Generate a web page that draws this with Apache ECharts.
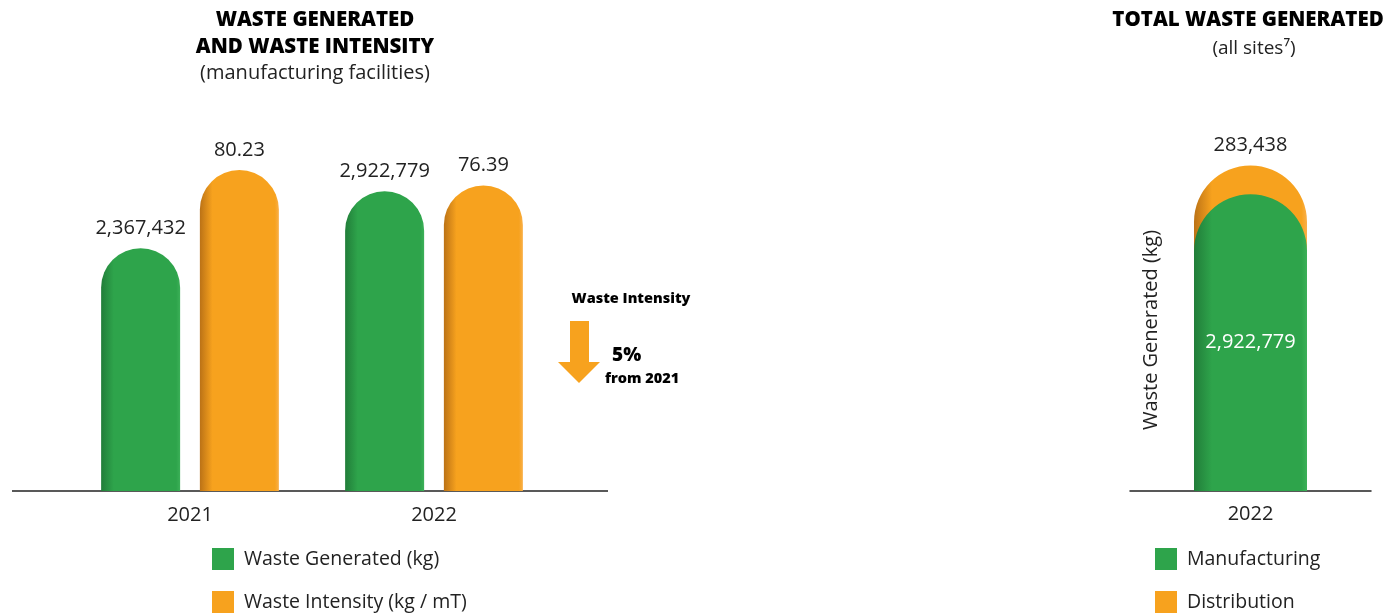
<!DOCTYPE html>
<html>
<head>
<meta charset="utf-8">
<script src="https://cdn.jsdelivr.net/npm/echarts@6/dist/echarts.min.js"></script>
<style>html,body{margin:0;padding:0;background:#fff;}#chart{width:1392px;height:614px;}</style>
</head>
<body>
<div id="chart"></div>
<script>
// ---- data ----
const categories = ['2021', '2022'];
const wasteGenerated = [2367432, 2922779];
const wasteIntensity = [80.23, 76.39];
const totalCategories = ['2022'];
const manufacturing = [2922779];
const distribution = [283438];
const seriesNames = ['Waste Generated (kg)', 'Waste Intensity (kg / mT)'];
const totalNames = ['Manufacturing', 'Distribution'];

const FONT = 'Open Sans';
const GREEN = '#2ea44b';
const ORANGE = '#f7a21e';

function grad(base, dark, light) {
  return new echarts.graphic.LinearGradient(0, 0, 1, 0, [
    { offset: 0, color: dark },
    { offset: 0.16, color: base },
    { offset: 0.95, color: base },
    { offset: 1, color: light }
  ]);
}
const greenFill = grad(GREEN, '#217d39', '#3cb058');
const orangeFill = grad(ORANGE, '#bb7216', '#f9b04a');

const fmtKg = v => Number(v).toLocaleString('en-US');
const totalValues = manufacturing.map((m, i) => m + distribution[i]);

const legendText = { fontFamily: FONT, fontSize: 19.5, color: '#222', padding: [0, 0, 0, 5] };
const titleStyle = { fontFamily: FONT, fontWeight: 800, fontSize: 20.5, lineHeight: 27, color: '#000' };

const chart = echarts.init(document.getElementById('chart'));
chart.setOption({
  animation: false,
  textStyle: { fontFamily: FONT },
  title: [
    {
      text: 'WASTE GENERATED\nAND WASTE INTENSITY',
      subtext: '(manufacturing facilities)',
      left: 310, top: 2, textAlign: 'center', itemGap: 1,
      textStyle: titleStyle,
      subtextStyle: { fontFamily: FONT, fontSize: 20, lineHeight: 22, color: '#222' }
    },
    {
      text: 'TOTAL WASTE GENERATED',
      left: 1243, top: 2, textAlign: 'center',
      textStyle: titleStyle
    },
    {
      text: '(all sites\u2077)',
      left: 1249, top: 33, textAlign: 'center',
      textStyle: { fontFamily: FONT, fontWeight: 'normal', fontSize: 19, lineHeight: 22, color: '#222' }
    }
  ],
  legend: [
    {
      data: [
        { name: seriesNames[0], itemStyle: { color: GREEN } },
        { name: seriesNames[1], itemStyle: { color: ORANGE } }
      ],
      orient: 'vertical', left: 212, top: 548, padding: 0,
      itemWidth: 22, itemHeight: 22, itemGap: 21, icon: 'rect',
      textStyle: legendText
    },
    {
      data: [
        { name: totalNames[0], itemStyle: { color: GREEN } },
        { name: totalNames[1], itemStyle: { color: ORANGE } }
      ],
      orient: 'vertical', left: 1155, top: 548, padding: 0,
      itemWidth: 22, itemHeight: 22, itemGap: 21, icon: 'rect',
      textStyle: legendText
    }
  ],
  grid: [
    { left: 68, width: 488, top: 91, height: 400 },
    { left: 1130, width: 241, top: 91, height: 400 }
  ],
  xAxis: [
    {
      type: 'category', gridIndex: 0, data: categories,
      axisLine: { show: false }, axisTick: { show: false },
      axisLabel: { fontFamily: FONT, fontSize: 20, color: '#222', margin: 14 }
    },
    {
      type: 'category', gridIndex: 1, data: totalCategories,
      axisLine: { show: true, lineStyle: { color: '#222', width: 1.5 } }, axisTick: { show: false },
      axisLabel: { fontFamily: FONT, fontSize: 20, color: '#222', margin: 13 }
    }
  ],
  yAxis: [
    { type: 'value', gridIndex: 0, min: 0, max: 3900000, show: false },
    { type: 'value', gridIndex: 0, min: 0, max: 100, show: false },
    { type: 'value', gridIndex: 1, min: 0, max: 3940000, show: false }
  ],
  series: [
    {
      name: seriesNames[0], type: 'bar', xAxisIndex: 0, yAxisIndex: 0,
      data: wasteGenerated, barWidth: 79, barGap: '25%',
      itemStyle: { color: greenFill, borderRadius: [39.5, 39.5, 0, 0] },
      label: { show: true, position: 'top', distance: 10, fontFamily: FONT, fontSize: 20, color: '#222', formatter: p => fmtKg(p.value) }
    },
    {
      name: seriesNames[1], type: 'bar', xAxisIndex: 0, yAxisIndex: 1,
      data: wasteIntensity, barWidth: 79, barGap: '25%',
      itemStyle: { color: orangeFill, borderRadius: [39.5, 39.5, 0, 0] },
      label: { show: true, position: 'top', distance: 10, fontFamily: FONT, fontSize: 20, color: '#222', formatter: p => Number(p.value).toFixed(2) }
    },
    {
      name: totalNames[1], type: 'bar', xAxisIndex: 1, yAxisIndex: 2,
      data: totalValues, barWidth: 113, barGap: '-100%',
      itemStyle: { color: orangeFill, borderRadius: [56.5, 56.5, 0, 0] },
      label: { show: true, position: 'top', distance: 10, fontFamily: FONT, fontSize: 20, color: '#222',
        formatter: p => fmtKg(distribution[p.dataIndex]) }
    },
    {
      name: totalNames[0], type: 'bar', xAxisIndex: 1, yAxisIndex: 2,
      data: manufacturing, barWidth: 113, barGap: '-100%',
      itemStyle: { color: greenFill, borderRadius: [56.5, 56.5, 0, 0] },
      label: { show: true, position: 'inside', fontFamily: FONT, fontSize: 20, color: '#fff', formatter: p => fmtKg(p.value) }
    }
  ],
  graphic: [
    { type: 'line', shape: { x1: 12, y1: 491, x2: 608, y2: 491 }, style: { stroke: '#222', lineWidth: 1.5 } },
    { type: 'text', x: 631, y: 299, style: { text: 'Waste Intensity', fontFamily: FONT, fontWeight: 800, fontSize: 14.5, fill: '#000', align: 'center', verticalAlign: 'middle' } },
    { type: 'rect', shape: { x: 570, y: 321, width: 19, height: 42 }, style: { fill: ORANGE } },
    { type: 'polygon', shape: { points: [[558, 362], [600, 362], [579, 383]] }, style: { fill: ORANGE } },
    { type: 'text', x: 612, y: 356, style: { text: '5%', fontFamily: FONT, fontWeight: 800, fontSize: 19, fill: '#000', align: 'left', verticalAlign: 'middle' } },
    { type: 'text', x: 605, y: 379, style: { text: 'from 2021', fontFamily: FONT, fontWeight: 800, fontSize: 14.5, fill: '#000', align: 'left', verticalAlign: 'middle' } },
    { type: 'text', x: 1151, y: 330, rotation: Math.PI / 2, style: { text: 'Waste Generated (kg)', fontFamily: FONT, fontSize: 20, fill: '#222', align: 'center', verticalAlign: 'middle' } }
  ]
});
</script>
</body>
</html>
